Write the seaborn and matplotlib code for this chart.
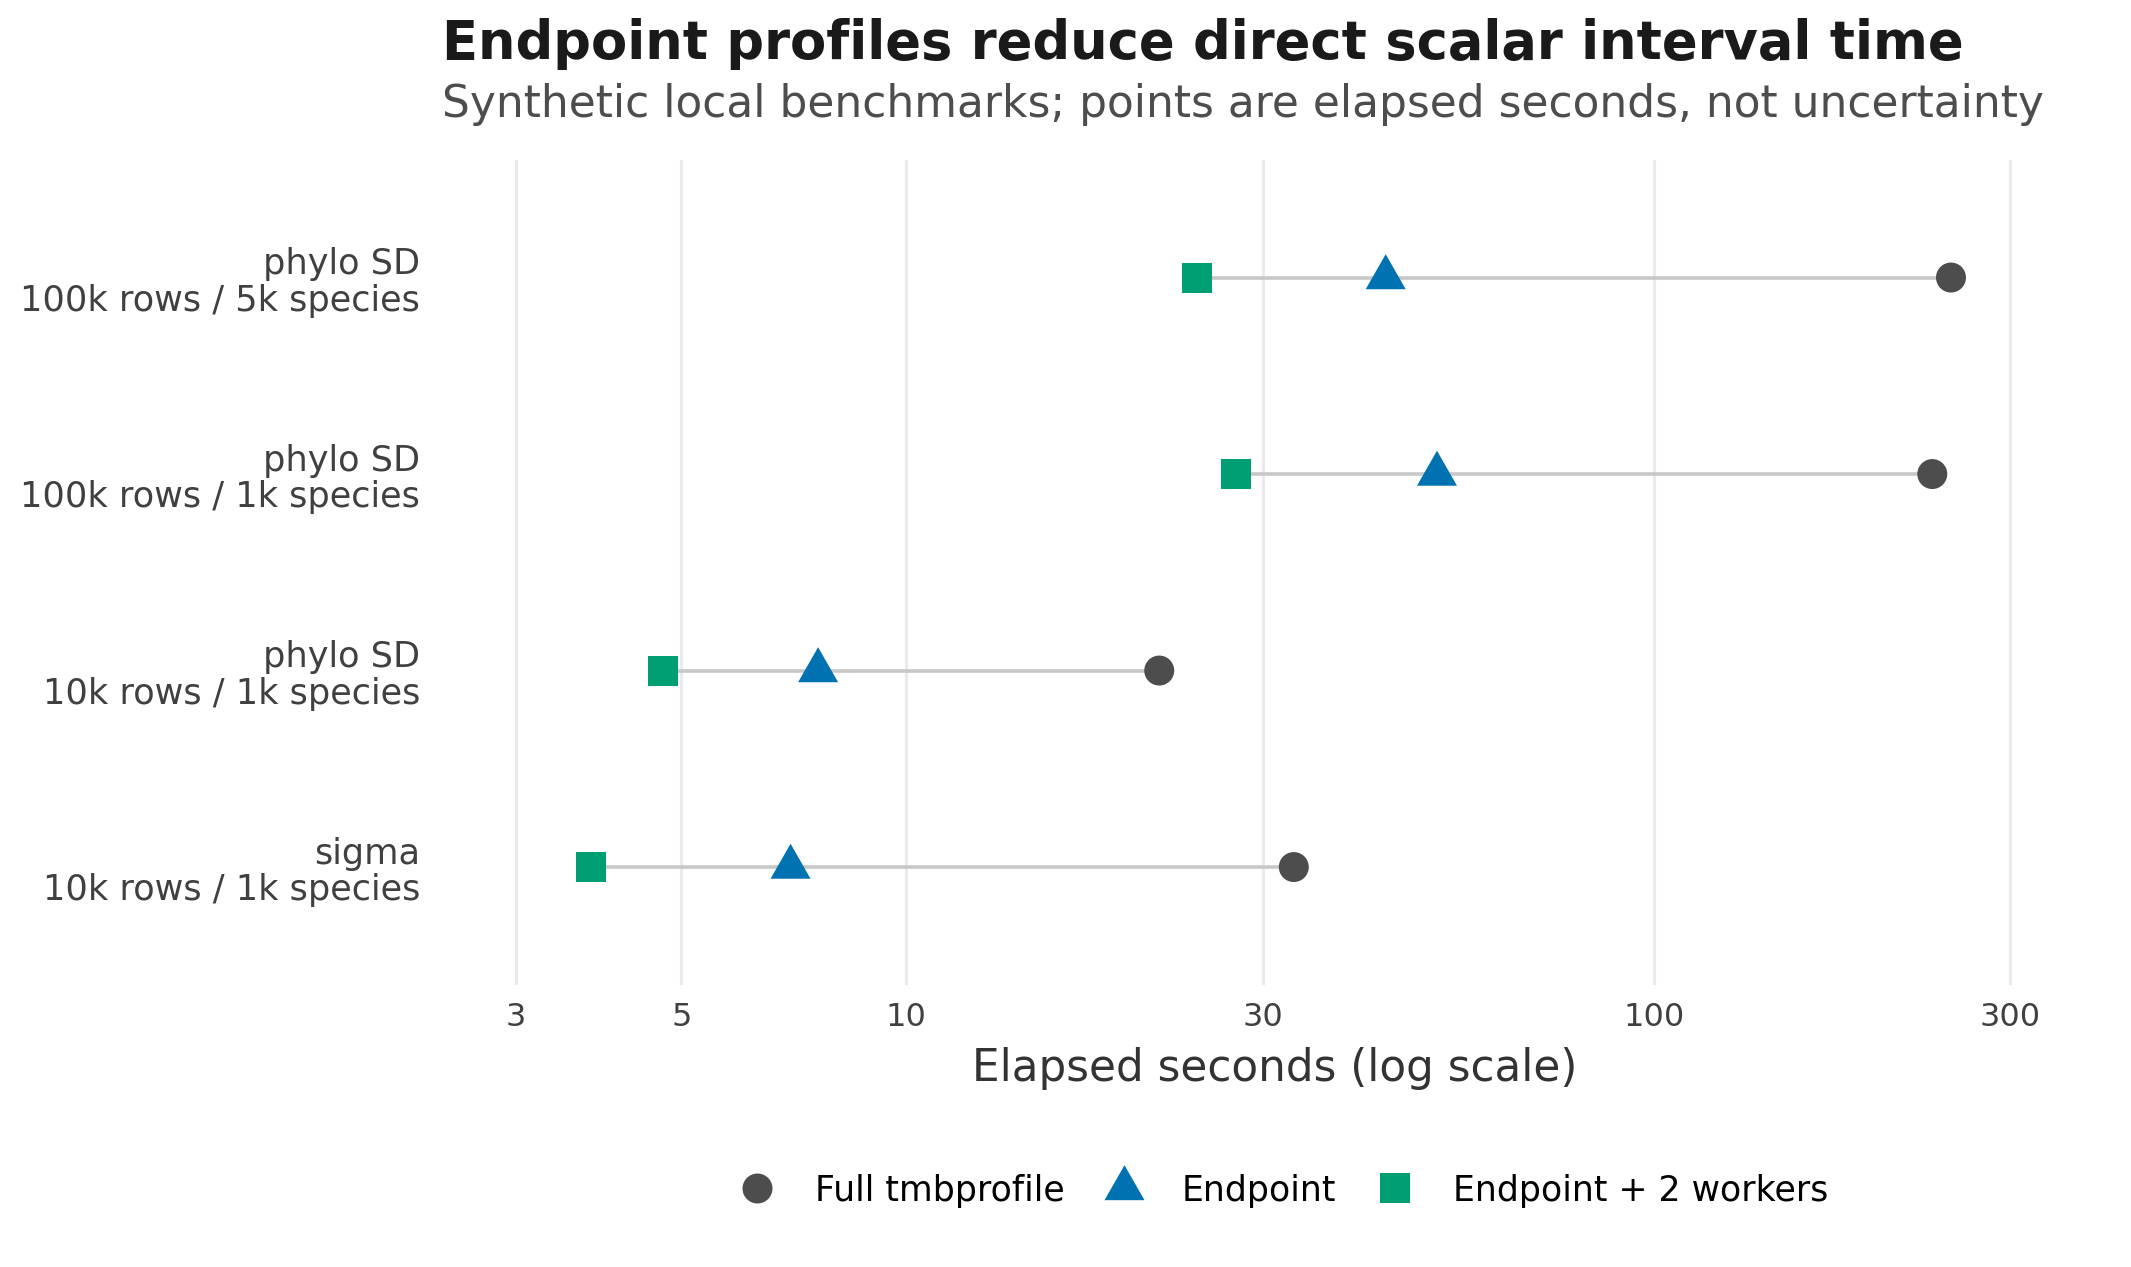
import numpy as np
import pandas as pd
import matplotlib
matplotlib.use("Agg")
import matplotlib.pyplot as plt
from matplotlib.ticker import FixedLocator, FixedFormatter, NullLocator
import seaborn as sns

# ---------------- data ----------------
rows = [
    "phylo SD\n100k rows / 5k species",
    "phylo SD\n100k rows / 1k species",
    "phylo SD\n10k rows / 1k species",
    "sigma\n10k rows / 1k species",
]
methods = ["Full tmbprofile", "Endpoint", "Endpoint + 2 workers"]
full_secs = [250.0, 236.0, 21.8, 33.0]
endpoint_secs = [43.8, 51.3, 7.62, 7.0]
workers_secs = [24.5, 27.6, 4.73, 3.78]
x_ticks = [3, 5, 10, 30, 100, 300]
x_tick_labels = ["3", "5", "10", "30", "100", "300"]
colors = ["#4D4D4D", "#0072B2", "#009E73"]

title = "Endpoint profiles reduce direct scalar interval time"
subtitle = "Synthetic local benchmarks; points are elapsed seconds, not uncertainty"
xlabel = "Elapsed seconds (log scale)"

# ---------------- styling ----------------
sns.set_theme(style="white")
plt.rcParams["font.family"] = ["DejaVu Sans"]

row_pos = np.arange(len(rows))
df = pd.DataFrame({
    "row": np.tile(row_pos, len(methods)),
    "method": np.repeat(methods, len(rows)),
    "seconds": full_secs + endpoint_secs + workers_secs,
})

tri = [(-1.0, -0.5833), (1.0, -0.5833), (0.0, 1.1667), (-1.0, -0.5833)]
marker_map = {methods[0]: "o", methods[1]: tri, methods[2]: "s"}
palette = dict(zip(methods, colors))
sizes = {methods[0]: 466, methods[1]: 1130, methods[2]: 466}

fig = plt.figure(figsize=(21.31, 12.67), dpi=100)
ax = fig.add_axes([0.207, 0.2226, 0.782, 0.6514])

ax.set_xscale("log")

# connecting segments
seg = df.groupby("row")["seconds"].agg(["min", "max"])
ax.hlines(seg.index, seg["min"], seg["max"], color="#C8C8C8", lw=2.6, zorder=1)

sns.scatterplot(
    data=df, x="seconds", y="row", hue="method", style="method", size="method",
    hue_order=methods, style_order=methods, size_order=methods,
    palette=palette, markers=marker_map, sizes=sizes,
    linewidth=0, ax=ax, zorder=3,
)

ax.set_xlim(2.385, 405)
ax.set_ylim(len(rows) - 0.4, -0.6)

ax.xaxis.set_major_locator(FixedLocator(x_ticks))
ax.xaxis.set_major_formatter(FixedFormatter(x_tick_labels))
ax.xaxis.set_minor_locator(NullLocator())
ax.set_yticks(row_pos)
ax.set_yticklabels(rows, color="#404040", fontsize=25.3, linespacing=1.1)
ax.tick_params(axis="x", length=0, pad=12, labelsize=23, labelcolor="#404040")
ax.tick_params(axis="y", length=0, pad=15)

ax.grid(axis="x", color="#EBEBEB", lw=2.3)
ax.grid(axis="y", visible=False)
ax.set_axisbelow(True)
for s in ax.spines.values():
    s.set_visible(False)

ax.set_xlabel(xlabel, fontsize=31.5, color="#333333", labelpad=10)
ax.set_ylabel("")

sns.move_legend(
    ax, "center", bbox_to_anchor=(0.6025, 0.0603), bbox_transform=fig.transFigure,
    ncol=3, title=None, frameon=False, fontsize=25,
    handlelength=1.0, handletextpad=1.17, columnspacing=1.2,
)
for t in ax.get_legend().get_texts():
    t.set_color("black")

fig.text(0.2074, 0.9532, title, fontsize=38, fontweight="bold", color="#1A1A1A",
         ha="left", va="baseline")
fig.text(0.2074, 0.9077, subtitle, fontsize=31.6, color="#4D4D4D",
         ha="left", va="baseline")

fig.savefig("out.png", dpi=100, facecolor="white")
